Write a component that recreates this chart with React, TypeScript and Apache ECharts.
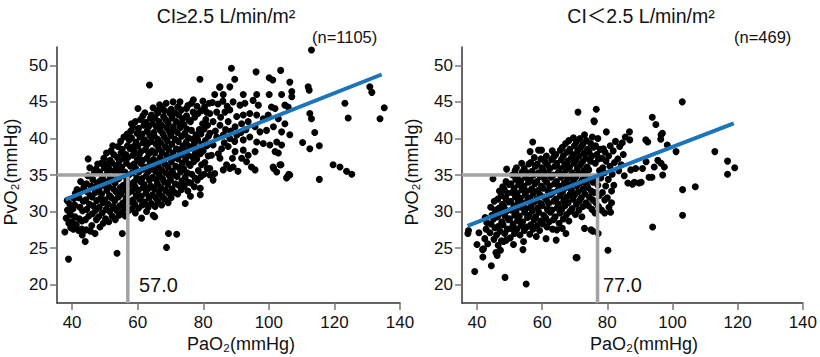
import React, { useEffect, useRef } from "react";
import * as echarts from "echarts";

const xTicks = [40, 60, 80, 100, 120, 140];
const yTicks = [20, 25, 30, 35, 40, 45, 50];
const titles = ["CI≥2.5 L/min/m²", "CI＜2.5 L/min/m²"];
const counts = ["(n=1105)", "(n=469)"];
const cutoffs = [57.0, 77.0];
const cutoffPvO2 = 35;
const highLine = [[38.0, 31.67], [134.4, 48.74]];
const lowLine = [[37.1, 28.06], [118.8, 42.05]];

// CI >= 2.5 : dense core
const highCore = [
  [37.8,27.2],[38.9,23.5],[38.2,29.1],[38.6,30.2],[39.0,28.4],[39.3,31.0],[38.5,31.5],[39.5,29.6],[39.6,27.8],[39.7,28.6],
  [40.1,28.6],[40.3,30.4],[40.6,31.8],[40.4,27.6],[40.9,29.3],[41.0,32.5],[41.3,28.2],[40.8,30.9],[41.5,33.0],
  [42.0,27.4],[42.2,29.0],[42.4,30.6],[42.1,31.9],[42.7,32.8],[42.9,27.6],[43.0,28.7],[43.2,30.1],[43.4,31.4],[43.6,33.4],[42.6,34.1],[43.1,26.8],
  [44.0,25.9],[44.3,27.5],[44.1,28.9],[44.5,30.3],[44.2,31.6],[44.6,32.7],[44.4,33.8],[44.9,37.2],[45.4,36.0],[44.8,34.9],[45.1,29.4],[45.3,31.0],[45.5,32.2],[45.6,27.3],[45.8,33.5],
  [46.0,28.1],[46.2,29.7],[46.4,30.8],[46.1,32.0],[46.6,33.2],[46.3,34.4],[46.8,35.3],[47.0,27.0],[47.4,28.9],[47.2,30.2],[47.5,31.5],[47.1,32.6],[47.6,33.9],[47.3,35.8],[47.8,36.5],
  [48.5,27.9],[48.1,29.3],[48.3,30.6],[48.7,31.8],[48.2,33.0],[48.6,34.2],[48.4,35.4],[48.9,36.6],[49.5,28.4],[49.2,29.8],[49.4,31.2],[49.0,32.4],[49.6,33.6],[49.3,34.8],[49.8,36.0],[49.7,37.3],
  [50.5,38.0],[50.2,29.0],[50.4,30.3],[50.1,31.6],[50.6,32.9],[50.3,34.1],[50.8,35.3],[50.5,36.5],[51.2,28.6],[51.5,30.0],[51.0,31.0],[51.4,32.2],[51.1,33.5],[51.7,34.7],[51.3,35.9],[51.6,37.0],[51.9,38.3],
  [52.2,29.4],[52.5,30.7],[52.0,31.9],[52.6,33.1],[52.3,34.3],[52.8,35.5],[52.1,36.7],[52.7,37.8],[52.4,39.0],[53.2,28.9],[53.5,30.2],[53.0,31.5],[53.4,32.7],[53.1,33.9],[53.6,35.1],[53.3,36.3],[53.8,37.4],[53.7,24.3],
  [54.0,38.9],[54.3,29.5],[54.5,30.8],[54.1,32.0],[54.7,33.3],[54.2,34.5],[54.6,35.7],[54.4,36.9],[54.9,38.0],[54.8,39.6],[55.3,27.0],[55.2,29.9],[55.5,31.2],[55.0,32.4],[55.6,33.6],[55.4,34.9],[55.1,36.1],[55.7,37.3],[55.3,38.5],[55.8,40.2],
  [56.2,29.4],[56.0,30.6],[56.5,31.8],[56.3,33.0],[56.7,34.2],[56.1,35.4],[56.6,36.6],[56.4,37.8],[56.9,39.0],[56.8,40.6],[57.2,30.1],[57.5,31.3],[57.1,32.5],[57.6,33.7],[57.3,35.0],[57.8,36.2],[57.0,37.4],[57.7,38.6],[57.4,39.8],[58.1,42.0],[57.9,41.0],
  [58.3,30.4],[58.6,31.6],[58.2,32.8],[58.8,34.0],[58.4,35.3],[58.9,36.5],[58.5,37.7],[58.7,38.9],[58.1,40.1],[58.6,41.5],[59.3,29.8],[59.1,31.0],[59.6,32.2],[59.2,33.4],[59.7,34.6],[59.4,35.9],[59.9,37.1],[59.0,38.3],[59.5,39.5],[59.8,40.7],[59.3,42.3],
  [60.1,44.1],[60.3,30.5],[60.6,31.7],[60.2,32.9],[60.8,34.1],[60.4,35.4],[60.9,36.6],[60.5,37.8],[60.1,39.0],[60.7,40.2],[60.3,41.4],[60.9,42.6],[61.2,29.1],[61.4,30.9],[61.1,32.1],[61.6,33.3],[61.3,34.5],[61.8,35.8],[61.5,37.0],[61.0,38.2],[61.7,39.4],[61.4,40.6],[61.9,41.8],[61.6,43.1],
  [62.7,30.0],[62.2,31.3],[62.5,32.5],[62.0,33.7],[62.6,34.9],[62.3,36.1],[62.8,37.3],[62.4,38.5],[62.1,39.8],[62.9,41.0],[62.5,42.2],[62.2,43.5],[63.2,30.6],[63.5,31.9],[63.1,33.1],[63.6,34.3],[63.3,35.5],[63.8,36.7],[63.4,37.9],[63.0,39.2],[63.7,40.4],[63.3,41.6],[63.9,42.8],[63.6,47.3],
  [64.7,29.5],[65.2,29.3],[64.2,31.1],[64.5,32.3],[64.0,33.5],[64.6,34.7],[64.3,35.9],[64.8,37.1],[64.4,38.3],[64.1,39.6],[64.9,40.8],[64.5,42.0],[64.2,43.2],[64.7,44.2],[65.3,30.7],[65.5,31.9],[65.1,33.1],[65.7,34.3],[65.4,35.5],[65.8,36.8],[65.2,38.0],[65.6,39.2],[65.0,40.4],[65.7,41.6],[65.3,42.8],[65.9,43.8],
  [66.2,31.4],[66.5,32.6],[66.0,33.8],[66.6,35.0],[66.3,36.2],[66.8,37.4],[66.4,38.6],[66.1,39.9],[66.9,41.1],[66.5,42.3],[66.2,43.5],[66.7,44.6],[67.3,30.9],[67.5,32.1],[67.1,33.3],[67.6,34.5],[67.3,35.7],[67.8,36.9],[67.4,38.1],[67.0,39.4],[67.7,40.6],[67.3,41.8],[67.9,43.0],[67.6,44.1],
  [68.8,25.1],[68.2,31.7],[68.5,32.9],[68.0,34.1],[68.6,35.3],[68.3,36.5],[68.8,37.7],[68.4,38.9],[68.1,40.2],[68.9,41.4],[68.5,42.6],[68.2,43.8],[68.7,44.8],[69.3,31.2],[69.5,32.5],[69.1,33.7],[69.6,34.9],[69.3,36.1],[69.8,37.3],[69.4,38.5],[69.0,39.7],[69.7,40.9],[69.3,42.1],[69.9,43.4],[69.4,27.0],
  [70.8,45.0],[70.2,31.9],[70.5,33.1],[70.0,34.3],[70.6,35.5],[70.3,36.8],[70.8,38.0],[70.4,39.2],[70.1,40.4],[70.9,41.6],[70.5,42.8],[70.2,44.0],[71.3,32.6],[71.5,33.8],[71.1,35.0],[71.6,36.2],[71.3,37.4],[71.8,38.6],[71.4,39.9],[71.0,41.1],[71.7,42.3],[71.3,43.5],[71.9,26.9],
  [72.9,45.0],[72.2,32.4],[72.5,33.6],[72.0,34.8],[72.6,36.0],[72.3,37.2],[72.8,38.4],[72.4,39.6],[72.1,40.8],[72.9,42.0],[72.5,43.2],[72.2,44.3],[73.3,33.0],[73.5,34.2],[73.1,35.4],[73.6,36.6],[73.3,37.8],[73.8,39.0],[73.4,40.3],[73.0,41.5],[73.7,42.7],[73.3,43.9],
  [74.5,31.1],[74.9,44.1],[74.2,33.5],[74.5,34.7],[74.0,35.9],[74.6,37.1],[74.3,38.3],[74.8,39.5],[74.4,40.7],[74.1,41.9],[74.9,43.1],[75.3,32.8],[75.5,34.0],[75.1,35.3],[75.6,36.5],[75.3,37.7],[75.8,38.9],[75.4,40.1],[75.0,41.3],[75.7,42.5],[75.3,44.5],
  [76.1,32.1],[76.2,33.9],[76.5,35.1],[76.0,36.3],[76.6,37.5],[76.3,38.7],[76.8,39.9],[76.4,41.1],[76.1,42.3],[76.9,43.6],[76.4,44.8],[77.3,33.4],[77.5,34.6],[77.1,36.8],[77.6,38.0],[77.3,39.3],[77.8,40.5],[77.4,42.9],[77.0,45.3],
  [79.1,32.3],[79.1,33.2],[79.0,48.1],[78.2,34.3],[78.5,35.6],[78.0,37.2],[78.6,38.4],[78.3,39.8],[78.8,41.2],[78.4,43.4],[78.1,44.4],[79.3,34.8],[79.5,36.4],[79.1,37.9],[79.6,39.2],[79.3,40.6],[79.8,42.0],[79.4,43.8],[79.9,45.1],
  [80.2,35.1],[80.5,36.7],[80.0,38.3],[80.6,39.7],[80.3,41.3],[80.8,42.6],[80.4,44.3],[81.0,43.6],[81.2,35.9],[81.5,37.6],[81.1,39.0],[81.6,40.3],[81.3,41.8],[81.8,44.8],[85.0,47.0]
];

// CI >= 2.5 : sparser upper range
const highSpread = [
  [83.5,46.0],[86.1,46.0],[92.2,46.0],[96.3,46.0],[100.1,46.0],[103.9,46.0],[107.0,46.4],[107.0,45.7],
  [85.1,47.05],[88.1,47.05],[88.6,49.6],[96.1,49.1],[103.6,49.3],[89.6,48.1],[100.1,48.3],[101.2,48.0],[106.4,47.7],
  [112.0,47.05],[112.3,46.6],[130.8,47.05],[131.4,46.3],[123.2,44.8],[135.2,44.2],[124.2,42.8],[133.9,42.7],
  [112.5,43.4],[113.0,42.7],[106.4,40.5],[114.0,40.8],[110.3,39.45],[112.5,38.6],[115.4,39.0],
  [103.7,36.4],[101.5,35.9],[102.4,35.4],[106.1,35.1],[105.4,34.6],[115.4,34.4],
  [119.6,36.4],[121.7,36.1],[123.7,35.5],[125.3,35.1],[113.0,52.1],
  [89.1,45.0],[91.2,44.55],[92.7,44.8],[95.2,45.2],[96.8,44.55],[100.8,44.3],[101.9,44.1],[104.9,44.55],[105.9,44.3],
  [82.0,43.4],[84.1,43.6],[86.6,43.6],[88.1,43.9],[90.2,43.0],[92.2,43.2],[94.2,43.4],[96.3,43.2],[98.3,42.7],[99.8,43.2],[102.9,42.7],[104.9,42.0],
  [83.0,42.3],[85.1,41.8],[87.6,42.3],[89.7,41.6],[91.7,42.0],[93.7,42.3],[95.8,41.6],[97.3,40.9],[99.3,41.1],[101.4,41.6],[103.9,40.9],
  [82.0,40.7],[84.1,40.2],[86.1,40.45],[88.1,40.0],[90.2,40.45],[92.2,39.8],[94.2,40.2],[96.3,39.5],[98.3,39.3],[100.3,39.1],[102.4,39.5],[103.9,39.1],
  [83.0,39.1],[85.6,38.6],[87.6,38.9],[89.7,38.2],[92.2,38.4],[93.7,37.7],[95.8,38.2],[101.9,38.2],[102.9,38.0],
  [82.5,37.7],[85.1,37.3],[87.1,36.4],[89.1,36.1],[91.7,37.3],[93.2,36.8],[94.7,36.1],[95.8,35.7],
  [82.0,35.9],[83.5,35.2],[86.1,35.7],[88.1,35.9],[82.0,35.0],[83.0,34.3],
  [82.8,44.9],[84.5,44.7],[86.0,45.1],[87.3,44.4],[83.7,41.0],[85.3,42.9],[86.8,41.2],[88.4,41.0],[89.6,39.6],
  [84.6,37.9],[86.4,39.4],[88.9,37.3],[90.6,35.5],[91.5,40.8],[93.0,41.2],
  [103.4,36.4],[101.3,36.1],[106.4,35.0],[105.6,34.75]
];

// CI < 2.5
const lowCore = [
  [37.2,27.0],[37.4,27.4],[39.3,21.8],[40.0,25.5],[40.6,27.1],
  [41.7,24.8],[41.8,23.8],[42.0,24.9],[42.4,26.3],[42.8,27.6],[43.0,28.5],[42.5,29.2],[43.3,25.6],
  [44.4,22.6],[44.0,27.1],[44.3,28.3],[44.6,29.5],[44.2,30.6],[44.9,34.5],[45.2,26.2],[45.5,27.8],[45.1,29.0],[45.6,30.2],[45.3,31.4],[45.8,24.4],
  [46.2,24.0],[46.5,25.4],[46.0,26.8],[46.6,28.0],[46.3,29.3],[46.8,30.5],[46.4,31.7],[46.9,32.8],[47.2,24.7],[47.5,26.0],[47.1,27.3],[47.6,28.6],[47.3,29.8],[47.8,31.0],[47.4,32.2],[47.9,33.4],
  [48.6,21.0],[48.2,25.9],[48.5,27.0],[48.0,28.2],[48.6,29.4],[48.3,30.6],[48.8,31.8],[48.4,33.0],[48.9,34.1],[49.1,35.8],[49.0,26.1],[49.3,27.6],[49.6,28.9],[49.2,30.1],[49.7,31.3],[49.4,32.5],[49.9,33.7],
  [50.2,26.4],[50.5,27.7],[50.0,29.0],[50.6,30.2],[50.3,31.4],[50.8,32.6],[50.4,33.8],[50.9,35.0],[51.2,25.5],[51.5,27.0],[51.1,28.3],[51.6,29.5],[51.3,30.8],[51.8,32.0],[51.4,33.2],[51.9,34.4],[51.7,35.6],
  [52.2,27.6],[52.5,28.8],[52.0,30.1],[52.6,31.3],[52.3,32.5],[52.8,33.7],[52.4,34.9],[52.1,36.0],[53.2,26.8],[53.5,28.1],[53.0,29.4],[53.6,30.6],[53.3,31.8],[53.8,33.0],[53.4,34.2],[53.9,35.4],[53.7,36.6],
  [54.3,25.9],[54.1,24.8],[55.1,20.1],[54.5,27.4],[54.0,28.6],[54.6,29.9],[54.3,31.1],[54.8,32.3],[54.4,33.5],[54.9,34.7],[54.5,35.9],[55.3,27.9],[55.5,29.2],[55.0,30.4],[55.6,31.6],[55.3,32.8],[55.8,34.0],[55.4,35.3],[55.9,36.5],
  [56.3,38.2],[57.1,39.5],[56.2,26.9],[56.5,28.2],[56.0,29.5],[56.6,30.7],[56.3,31.9],[56.8,33.1],[56.4,34.3],[56.9,35.5],[56.5,36.7],[57.2,27.6],[57.5,28.9],[57.0,30.1],[57.6,31.3],[57.3,32.5],[57.8,33.8],[57.4,35.0],[57.9,36.2],[57.6,37.4],
  [58.9,38.4],[59.8,38.4],[58.2,26.6],[58.5,28.1],[58.0,29.3],[58.6,30.5],[58.3,31.7],[58.8,32.9],[58.4,34.1],[58.9,35.3],[58.5,36.5],[59.2,27.4],[59.5,28.7],[59.0,29.9],[59.6,31.1],[59.3,32.3],[59.8,33.5],[59.4,34.8],[59.9,36.0],[59.6,37.2],
  [60.2,28.3],[60.5,29.5],[60.0,30.8],[60.6,32.0],[60.3,33.2],[60.8,34.4],[60.4,35.6],[60.9,36.8],[61.2,26.3],[61.5,27.9],[61.1,29.1],[61.6,30.3],[61.3,31.6],[61.8,32.8],[61.4,34.0],[61.9,35.2],[61.6,36.4],[61.3,37.6],
  [62.2,28.6],[62.5,29.9],[62.0,31.1],[62.6,32.3],[62.3,33.5],[62.8,34.7],[62.4,35.9],[62.9,37.1],[63.2,27.6],[63.5,28.9],[63.0,30.2],[63.6,31.4],[63.3,32.6],[63.8,33.8],[63.4,35.0],[63.9,36.2],[63.6,37.5],[63.1,38.3],
  [64.3,26.1],[64.5,27.5],[64.0,29.3],[64.6,30.5],[64.3,31.7],[64.8,32.9],[64.4,34.1],[64.9,35.3],[64.5,36.6],[64.2,37.8],[65.2,28.4],[65.5,29.8],[65.0,31.0],[65.6,32.2],[65.3,33.5],[65.8,34.7],[65.4,35.9],[65.9,37.1],[65.6,38.4],
  [66.2,27.7],[66.5,29.0],[66.0,30.3],[66.6,31.5],[66.3,32.7],[66.8,33.9],[66.4,35.1],[66.9,36.4],[66.5,37.6],[66.2,38.8],[67.3,27.0],[67.5,29.6],[67.0,30.8],[67.6,32.0],[67.3,33.3],[67.8,34.5],[67.4,35.7],[67.9,36.9],[67.6,38.1],[67.2,39.3],
  [68.2,28.7],[68.5,30.0],[68.0,31.2],[68.6,32.4],[68.3,33.6],[68.8,34.9],[68.4,36.1],[68.9,37.3],[68.5,38.5],[68.2,39.7],[69.2,30.4],[69.5,31.7],[69.0,32.9],[69.6,34.1],[69.3,35.3],[69.8,36.6],[69.4,37.8],[69.9,39.0],[69.6,40.1],
  [70.4,23.7],[70.7,23.7],[71.0,43.6],[70.2,29.6],[70.5,31.0],[70.0,32.3],[70.6,33.5],[70.3,34.7],[70.8,35.9],[70.4,37.1],[70.9,38.3],[70.5,39.5],[71.3,30.2],[71.5,31.5],[71.1,32.7],[71.6,33.9],[71.3,35.2],[71.8,36.4],[71.4,37.6],[71.9,38.8],[71.6,40.0],
  [72.2,29.3],[72.5,30.7],[72.0,31.9],[72.6,33.1],[72.3,34.3],[72.8,35.6],[72.4,36.8],[72.9,38.0],[72.5,39.2],[73.0,40.5],[73.0,27.7],[73.5,31.2],[73.1,32.4],[73.6,33.7],[73.3,34.9],[73.8,36.1],[73.4,37.3],[73.9,38.5],[73.6,39.7],
  [74.2,30.8],[74.5,32.0],[74.0,33.3],[74.6,34.5],[74.3,35.7],[74.8,36.9],[74.4,38.1],[74.9,39.3],[75.0,27.5],[75.6,27.3],[75.3,30.3],[75.5,31.6],[75.1,32.8],[75.6,34.0],[75.3,37.6],[75.8,38.8],[75.9,42.4],[75.4,40.2],
  [76.6,44.0],[76.0,42.3],[77.1,40.0],[77.2,27.0],[76.2,29.8],[76.5,31.2],[76.0,32.6],[76.6,34.3],[76.3,36.6],[76.8,37.8],[76.4,39.0],[77.3,30.7],[77.5,32.2],[77.1,33.6],[77.6,35.6],[77.3,37.2],[77.8,38.5]
];

const lowSpread = [
  [78.2,30.2],[78.5,32.6],[78.0,34.6],[78.6,36.0],[78.3,37.3],[78.8,38.6],[79.2,31.6],[79.5,33.5],[79.1,35.3],[79.6,36.9],[79.3,38.1],[79.7,40.9],
  [79.2,29.8],[80.5,30.6],[81.3,31.2],[80.0,31.9],[81.0,29.9],
  [80.2,24.7],[80.3,34.4],[80.8,36.2],[80.4,37.6],[80.9,39.0],[81.3,32.8],[81.5,35.1],[81.8,38.3],[82.2,36.7],[82.5,39.6],[82.0,33.6],
  [83.2,37.2],[83.5,35.6],[83.8,38.9],[84.3,36.4],[84.6,39.4],[84.9,37.8],[85.2,34.9],[85.5,40.2],
  [86.3,33.9],[86.8,40.9],[86.9,39.8],[87.2,35.7],[87.7,33.75],[88.3,34.0],[88.7,35.9],[89.7,33.9],[90.4,34.0],[90.8,35.9],
  [91.8,39.8],[91.9,36.8],[92.4,39.5],[92.8,34.7],[93.7,34.7],[93.8,42.9],[94.4,36.1],[94.9,41.9],[95.5,37.0],
  [96.4,39.9],[96.5,40.5],[96.5,36.6],[96.9,40.7],[97.0,35.0],[97.5,36.1],[98.4,39.1],[93.9,27.9],
  [101.1,38.2],[103.0,45.0],[103.1,33.0],[103.1,29.5],[107.0,33.4],[113.0,38.2],[116.9,36.9],[119.1,36.0],[116.9,35.1]
];

const FONT = "'Liberation Sans', Arial, 'Noto Sans CJK JP', sans-serif";
const X_MIN = 35.4;
const X_MAX = 140;
const Y_MIN = 17.5;
const Y_MAX = 52.5;

function axisPair(gridIndex: number) {
  const x = {
    type: "value", gridIndex, min: X_MIN, max: X_MAX,
    axisLine: { show: true, lineStyle: { color: "#333", width: 1.5 } },
    axisTick: { show: true, length: 7, customValues: xTicks, lineStyle: { color: "#777", width: 1.5 } },
    axisLabel: { customValues: xTicks, fontSize: 17, color: "#111", margin: 11, fontFamily: FONT },
    splitLine: { show: false },
  };
  const y = {
    type: "value", gridIndex, min: Y_MIN, max: Y_MAX,
    axisLine: { show: true, lineStyle: { color: "#333", width: 1.5 } },
    axisTick: { show: true, length: 7, customValues: yTicks, lineStyle: { color: "#777", width: 1.5 } },
    axisLabel: { customValues: yTicks, fontSize: 17, color: "#111", margin: 9, fontFamily: FONT },
    splitLine: { show: false },
  };
  return { x, y };
}

function txt(x: number, y: number, text: string, fontSize: number, align = "center", rotation = 0) {
  return {
    type: "text", x, y, rotation, silent: true,
    style: { text, fontSize, fontFamily: FONT, fill: "#111", align, verticalAlign: "middle" },
  };
}

export default function App() {
  const ref = useRef<HTMLDivElement>(null);
  useEffect(() => {
    if (!ref.current) return;
    const chart = echarts.init(ref.current, undefined, { renderer: "svg" });
    const a0 = axisPair(0);
    const a1 = axisPair(1);
    const panels = [
      { points: highCore.concat(highSpread), reg: highLine, cut: cutoffs[0] },
      { points: lowCore.concat(lowSpread), reg: lowLine, cut: cutoffs[1] },
    ];
    const series: any[] = [];
    panels.forEach((p, i) => {
      series.push({
        type: "scatter", xAxisIndex: i, yAxisIndex: i, data: p.points,
        symbol: "circle", symbolSize: 7, itemStyle: { color: "#000", opacity: 1 }, z: 2, silent: true,
      });
      series.push({
        type: "line", xAxisIndex: i, yAxisIndex: i,
        data: [[X_MIN, cutoffPvO2], [p.cut, cutoffPvO2], [p.cut, Y_MIN]],
        showSymbol: false, lineStyle: { color: "#a3a3a3", width: 3.5 }, z: 3, silent: true,
      });
      series.push({
        type: "line", xAxisIndex: i, yAxisIndex: i, data: p.reg,
        showSymbol: false, lineStyle: { color: "#1b75bb", width: 4 }, z: 4, silent: true,
      });
    });
    chart.setOption({
      animation: false,
      backgroundColor: "#fff",
      grid: [
        { left: 57, top: 47, width: 343, height: 256 },
        { left: 462, top: 47, width: 342, height: 256 },
      ],
      xAxis: [a0.x, a1.x],
      yAxis: [a0.y, a1.y],
      series,
      graphic: [
        txt(226, 16, titles[0], 19.5),
        txt(641, 16, titles[1], 19.5),
        txt(312, 37, counts[0], 16.5, "left"),
        txt(734, 37, counts[1], 16.5, "left"),
        txt(241, 344, "PaO₂(mmHg)", 18),
        txt(644, 344, "PaO₂(mmHg)", 18),
        txt(11, 172, "PvO₂(mmHg)", 18, "center", Math.PI / 2),
        txt(412, 172, "PvO₂(mmHg)", 18, "center", Math.PI / 2),
        txt(139, 285, cutoffs[0].toFixed(1), 20, "left"),
        txt(603, 285, cutoffs[1].toFixed(1), 20, "left"),
      ],
    });
    return () => chart.dispose();
  }, []);
  return (
    <div
      ref={ref}
      style={{ position: "fixed", left: 0, top: 0, width: 820, height: 357, background: "#fff" }}
    />
  );
}
